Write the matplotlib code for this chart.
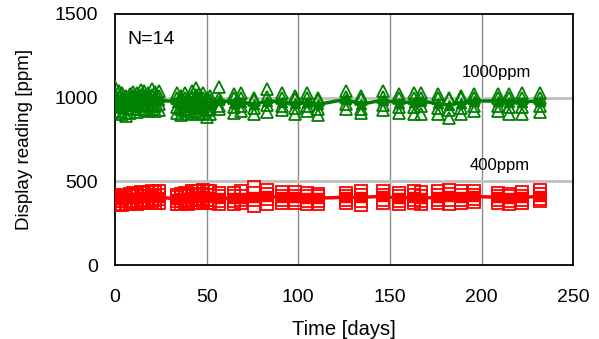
import numpy as np
import matplotlib.pyplot as plt

plt.rcParams['font.family'] = ['Liberation Sans', 'DejaVu Sans']

# measurement days
days = [0, 2, 4, 6, 8, 10, 12, 14, 16, 18, 20, 22, 24,
        34, 36, 38, 40, 42, 44, 46, 48, 50, 52, 57,
        65, 69, 76, 83, 91, 98, 105, 111,
        126, 134, 146, 155, 163, 167, 176, 182, 189, 196,
        209, 215, 222, 232]

# 1000 ppm reference gas: highest, upper, lower, lowest reading and mean of N=14
g_max = [1065, 1040, 1030, 1010, 1020, 1035, 1030, 1045, 1040, 1030, 1050, 1035, 1040,
         1025, 1010, 1030, 1000, 1040, 1060, 1020, 1030, 1000, 1010, 1065,
         1020, 1030, 1000, 1050, 1030, 1010, 1030, 1000,
         1040, 1010, 1040, 1020, 1030, 1030, 1020, 1000, 1010, 1020,
         1020, 1020, 1030, 1030]
g_hi = [1020, 1005, 990, 985, 1000, 1010, 1005, 1015, 1010, 1005, 1015, 1005, 1010,
        995, 990, 1000, 985, 1005, 1015, 995, 1000, 980, 985, 1000,
        995, 1000, 985, 1005, 1000, 990, 1000, 985,
        1005, 990, 1005, 995, 1000, 1000, 995, 990, 995, 1000,
        995, 1000, 1000, 1000]
g_lo = [960, 950, 945, 940, 955, 960, 950, 965, 960, 955, 960, 950, 960,
        945, 935, 950, 935, 950, 955, 940, 945, 925, 935, 950,
        945, 950, 940, 955, 950, 940, 950, 935,
        960, 935, 955, 945, 945, 950, 940, 925, 940, 950,
        950, 945, 945, 950]
g_min = [920, 915, 905, 890, 910, 930, 915, 935, 925, 920, 930, 920, 925,
         910, 895, 920, 900, 910, 920, 905, 910, 885, 900, 930,
         910, 920, 905, 915, 925, 905, 920, 895,
         930, 910, 925, 910, 900, 905, 905, 880, 905, 920,
         920, 905, 905, 915]
g_mean = [995, 985, 975, 965, 975, 990, 980, 995, 990, 985, 990, 985, 985,
          975, 965, 980, 960, 975, 985, 965, 975, 955, 965, 985,
          970, 975, 960, 980, 975, 965, 975, 960,
          990, 960, 985, 970, 975, 980, 965, 955, 970, 980,
          980, 975, 975, 980]

# 400 ppm reference gas
r_max = [420, 410, 415, 420, 425, 430, 425, 435, 430, 435, 440, 435, 440,
         420, 425, 430, 425, 440, 445, 440, 450, 445, 440, 430,
         430, 440, 465, 450, 435, 435, 430, 425,
         430, 445, 440, 430, 440, 435, 440, 450, 445, 445,
         430, 425, 435, 450]
r_hi = [405, 400, 405, 405, 410, 410, 410, 415, 415, 415, 420, 415, 420,
        405, 410, 410, 410, 420, 425, 420, 425, 420, 420, 410,
        410, 415, 430, 425, 415, 415, 410, 410,
        415, 420, 420, 410, 420, 415, 420, 425, 420, 420,
        415, 410, 415, 425]
r_lo = [385, 380, 380, 385, 385, 385, 385, 390, 390, 390, 395, 390, 395,
        385, 385, 390, 385, 390, 395, 390, 395, 390, 390, 385,
        385, 390, 390, 395, 390, 390, 385, 385,
        390, 385, 390, 385, 390, 385, 390, 390, 390, 395,
        390, 385, 390, 395]
r_min = [365, 360, 360, 365, 365, 370, 365, 370, 370, 375, 375, 370, 370,
         365, 365, 370, 365, 370, 370, 370, 375, 370, 370, 365,
         365, 370, 350, 365, 370, 370, 365, 365,
         370, 360, 370, 365, 370, 365, 370, 365, 370, 375,
         370, 365, 370, 380]
r_mean = [400, 395, 395, 400, 400, 400, 400, 405, 405, 405, 410, 405, 405,
          395, 400, 400, 400, 405, 410, 405, 410, 405, 405, 400,
          400, 400, 405, 410, 405, 405, 400, 400,
          405, 405, 410, 400, 405, 400, 405, 410, 405, 410,
          405, 400, 405, 410]

green = '#008000'
red = '#ff0000'

fig = plt.figure(figsize=(5.99, 3.39), dpi=100)
ax = fig.add_axes([0.192, 0.218, 0.765, 0.741])

for vals in [g_max, g_hi, g_lo, g_min]:
    ax.plot(days, vals, linestyle='none', marker='^', markersize=8.5,
            markerfacecolor='none', markeredgecolor=green, markeredgewidth=1.3, zorder=3)
ax.plot(days, g_mean, color=green, lw=2.5, marker='^', markersize=7,
        markerfacecolor=green, markeredgecolor=green, zorder=4)

for vals in [r_max, r_hi, r_lo, r_min]:
    ax.plot(days, vals, linestyle='none', marker='s', markersize=8,
            markerfacecolor='none', markeredgecolor=red, markeredgewidth=1.3, zorder=3)
ax.plot(days, r_mean, color=red, lw=2.5, marker='s', markersize=7,
        markerfacecolor=red, markeredgecolor=red, zorder=4)

ax.set_xlim(0, 250)
ax.set_ylim(0, 1500)
ax.set_xticks(np.arange(0, 251, 50))
ax.set_yticks(np.arange(0, 1501, 500))
ax.tick_params(axis='x', length=0, labelsize=14, pad=17)
ax.tick_params(axis='y', length=0, labelsize=14, pad=12)

for x in [50, 100, 150, 200]:
    ax.axvline(x, color='#8c8c8c', lw=1, zorder=1)
for y in [500, 1000]:
    ax.axhline(y, color='#c0c0c0', lw=2, zorder=1)

for s in ax.spines.values():
    s.set_color('black')
    s.set_linewidth(1.3)

ax.set_xlabel('Time [days]', fontsize=14.5, labelpad=10)
ax.set_ylabel('Display reading [ppm]', fontsize=13.5, labelpad=16)

ax.text(7, 1350, 'N=14', fontsize=14, va='center', ha='left')
ax.text(208, 1150, '1000ppm', fontsize=12, ha='center', va='center')
ax.text(210, 592, '400ppm', fontsize=12, ha='center', va='center')

fig.savefig('out.png', dpi=100)
